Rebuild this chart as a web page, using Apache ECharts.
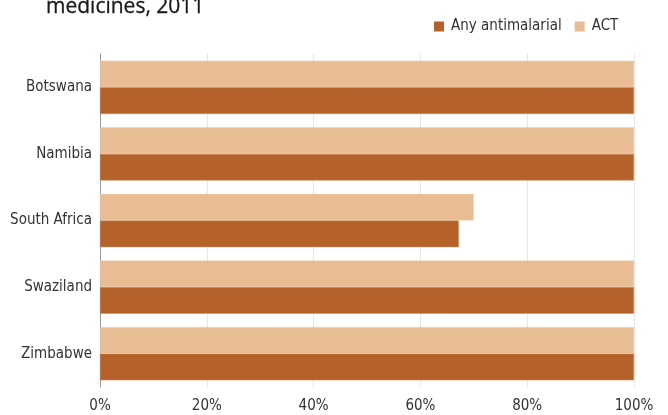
<!DOCTYPE html>
<html><head><meta charset="utf-8">
<script src="https://cdn.jsdelivr.net/npm/echarts@6/dist/echarts.min.js"></script>
<style>html,body{margin:0;padding:0;background:#fff}#c{width:668px;height:415px}</style>
</head><body><div id="c"></div>
<script>
const categories = ['Botswana', 'Namibia', 'South Africa', 'Swaziland', 'Zimbabwe'];
const anyAntimalarial = [100, 100, 67.2, 100, 100];
const act = [100, 100, 70, 100, 100];
const xTicks = [0, 20, 40, 60, 80, 100];
const titleText = 'medicines, 2011';

const FONT = '"Liberation Sans Narrow", "DejaVu Sans Condensed", sans-serif';
const chart = echarts.init(document.getElementById('c'), null, {renderer: 'canvas'});
chart.setOption({
  animation: false,
  title: {
    text: titleText, left: 41, top: -8,
    textStyle: {fontFamily: '"Open Sans", sans-serif', fontSize: 21, fontWeight: 'normal', color: '#1a1a1a',
      textBorderColor: '#1a1a1a', textBorderWidth: 0.3}
  },
  legend: {
    data: ['Any antimalarial', 'ACT'],
    left: 429, top: 14, itemWidth: 10, itemHeight: 10, itemGap: 13,
    icon: 'rect',
    itemStyle: {borderWidth: 0},
    textStyle: {fontFamily: FONT, fontSize: 15, color: '#333', padding: [0, 0, 0, 2]}
  },
  grid: {left: 100, right: 34, top: 54, bottom: 28, containLabel: false},
  xAxis: {
    type: 'value', min: xTicks[0], max: xTicks[xTicks.length - 1], interval: 20,
    axisLine: {show: false}, axisTick: {show: false},
    splitLine: {show: true, lineStyle: {color: '#e6e6e6', width: 1}},
    axisLabel: {formatter: '{value}%', fontFamily: FONT, fontSize: 15, color: '#333', margin: 12}
  },
  yAxis: {
    type: 'category', data: categories, inverse: true,
    axisLine: {show: true, lineStyle: {color: '#999'}}, axisTick: {show: false},
    axisLabel: {fontFamily: FONT, fontSize: 15, color: '#333', margin: 8}
  },
  series: [
    {name: 'ACT', type: 'bar', data: act, barGap: '0%', barCategoryGap: '20%',
     itemStyle: {color: '#E8BD93', borderColor: '#F0D2B4', borderWidth: 0.5}},
    {name: 'Any antimalarial', type: 'bar', data: anyAntimalarial, barGap: '0%', barCategoryGap: '20%',
     itemStyle: {color: '#B4622A', borderColor: '#D08C5C', borderWidth: 0.5}}
  ]
});
</script></body></html>
